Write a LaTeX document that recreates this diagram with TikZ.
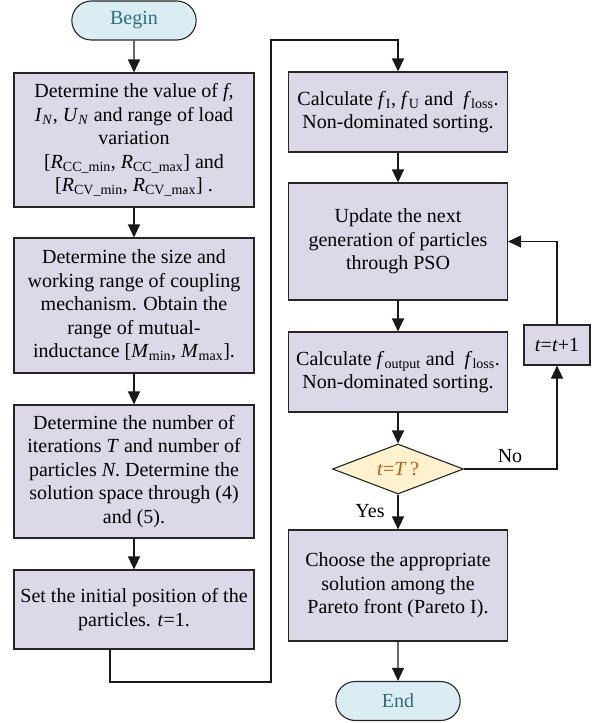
\documentclass[tikz,border=0pt]{standalone}
\usepackage{fontspec}
\setmainfont{Liberation Serif}
\usetikzlibrary{arrows.meta,shapes.geometric,shapes.misc}
\definecolor{boxfill}{RGB}{221,216,232}
\definecolor{termfill}{RGB}{218,237,243}
\definecolor{termtext}{RGB}{46,110,128}
\definecolor{diafill}{RGB}{255,242,204}
\definecolor{diatext}{RGB}{197,90,17}
\newcommand\sbs[1]{\textsubscript{#1}}
\begin{document}
\begin{tikzpicture}[x=1pt,y=-1pt,
  every node/.style={font=\fontsize{20}{23.5}\selectfont},
  procbox/.style={draw=black!85,line width=1.1pt,fill=boxfill,rectangle,align=center,inner sep=1pt},
  term/.style={draw=black!85,line width=1.1pt,fill=termfill,rounded rectangle,text=termtext,minimum width=131pt,minimum height=39pt},
  decis/.style={draw=black!85,line width=1.1pt,fill=diafill,diamond,aspect=2.6,text=diatext,minimum width=131pt,minimum height=50pt,inner sep=0pt},
  conn/.style={line width=1.1pt,draw=black!90},
  arr/.style={conn,-{Triangle[length=13pt,width=12pt]}}]
\useasboundingbox (0,0) rectangle (598,723);
% left column
\node[term] (begin) at (134,20.5) {Begin};
\node[procbox,minimum width=240pt,minimum height=134pt] (b1) at (134,140)
 {Determine the value of \textit{f},\\ \textit{I}\sbs{\textit{N}}, \textit{U}\sbs{\textit{N}} and range of load\\ variation\\ {[}\textit{R}\sbs{CC\_min}, \textit{R}\sbs{CC\_max}] and\\ {[}\textit{R}\sbs{CV\_min}, \textit{R}\sbs{CV\_max}] .};
\node[procbox,minimum width=240pt,minimum height=135pt] (b2) at (134,305.5)
 {Determine the size and\\ working range of coupling\\ mechanism. Obtain the\\ range of mutual-\\ inductance [\textit{M}\sbs{min}, \textit{M}\sbs{max}].};
\node[procbox,minimum width=240pt,minimum height=133pt] (b3) at (134,471.5)
 {Determine the number of\\ iterations \textit{T} and number of\\ particles \textit{N}. Determine the\\ solution space through (4)\\ and (5).};
\node[procbox,minimum width=240pt,minimum height=79pt] (b4) at (134,609.5)
 {Set the initial position of the\\ particles. \textit{t}=1.};
% right column
\node[procbox,minimum width=219pt,minimum height=80pt] (b5) at (398,112)
 {Calculate \textit{f}\sbs{I}, \textit{f}\sbs{U} and \ \textit{f}\sbs{loss}.\\ Non-dominated sorting.};
\node[procbox,minimum width=219pt,minimum height=117pt] (b6) at (398,241.5)
 {Update the next\\ generation of particles\\ through PSO};
\node[procbox,minimum width=219pt,minimum height=80pt] (b7) at (398,372)
 {Calculate \textit{f}\sbs{output} and \ \textit{f}\sbs{loss}.\\ Non-dominated sorting.};
\node[decis] (dia) at (398,469) {\textit{t}=\textit{T}\,?};
\node[procbox,minimum width=66pt,minimum height=40pt] (tp) at (557,345) {\textit{t}=\textit{t}+1};
\node[procbox,minimum width=219pt,minimum height=111pt] (b8) at (398,585.5)
 {Choose the appropriate\\ solution among the\\ Pareto front (Pareto I).};
\node[term] (end) at (398,701) {End};
% connectors
\draw[arr] (begin) -- (b1);
\draw[arr] (b1) -- (b2);
\draw[arr] (b2) -- (b3);
\draw[arr] (b3) -- (b4);
\coordinate (c1) at (271,682);
\coordinate (c2) at (271,40);
\draw[arr] ([xshift=-24pt]b4.south) |- (c1) -- (c2) -| (b5.north);
\draw[arr] (b5) -- (b6);
\draw[arr] (b6) -- (b7);
\draw[arr] (b7) -- (dia);
\draw[arr] (dia) -- (b8);
\draw[arr] (b8) -- (end);
\draw[arr] (dia.east) -| (tp.south);
\draw[arr] (tp.north) |- (b6.east);
\node[anchor=base] (no) at (510,462) {No};
\node[anchor=base] (yes) at (370,517) {Yes};
\end{tikzpicture}
\end{document}
